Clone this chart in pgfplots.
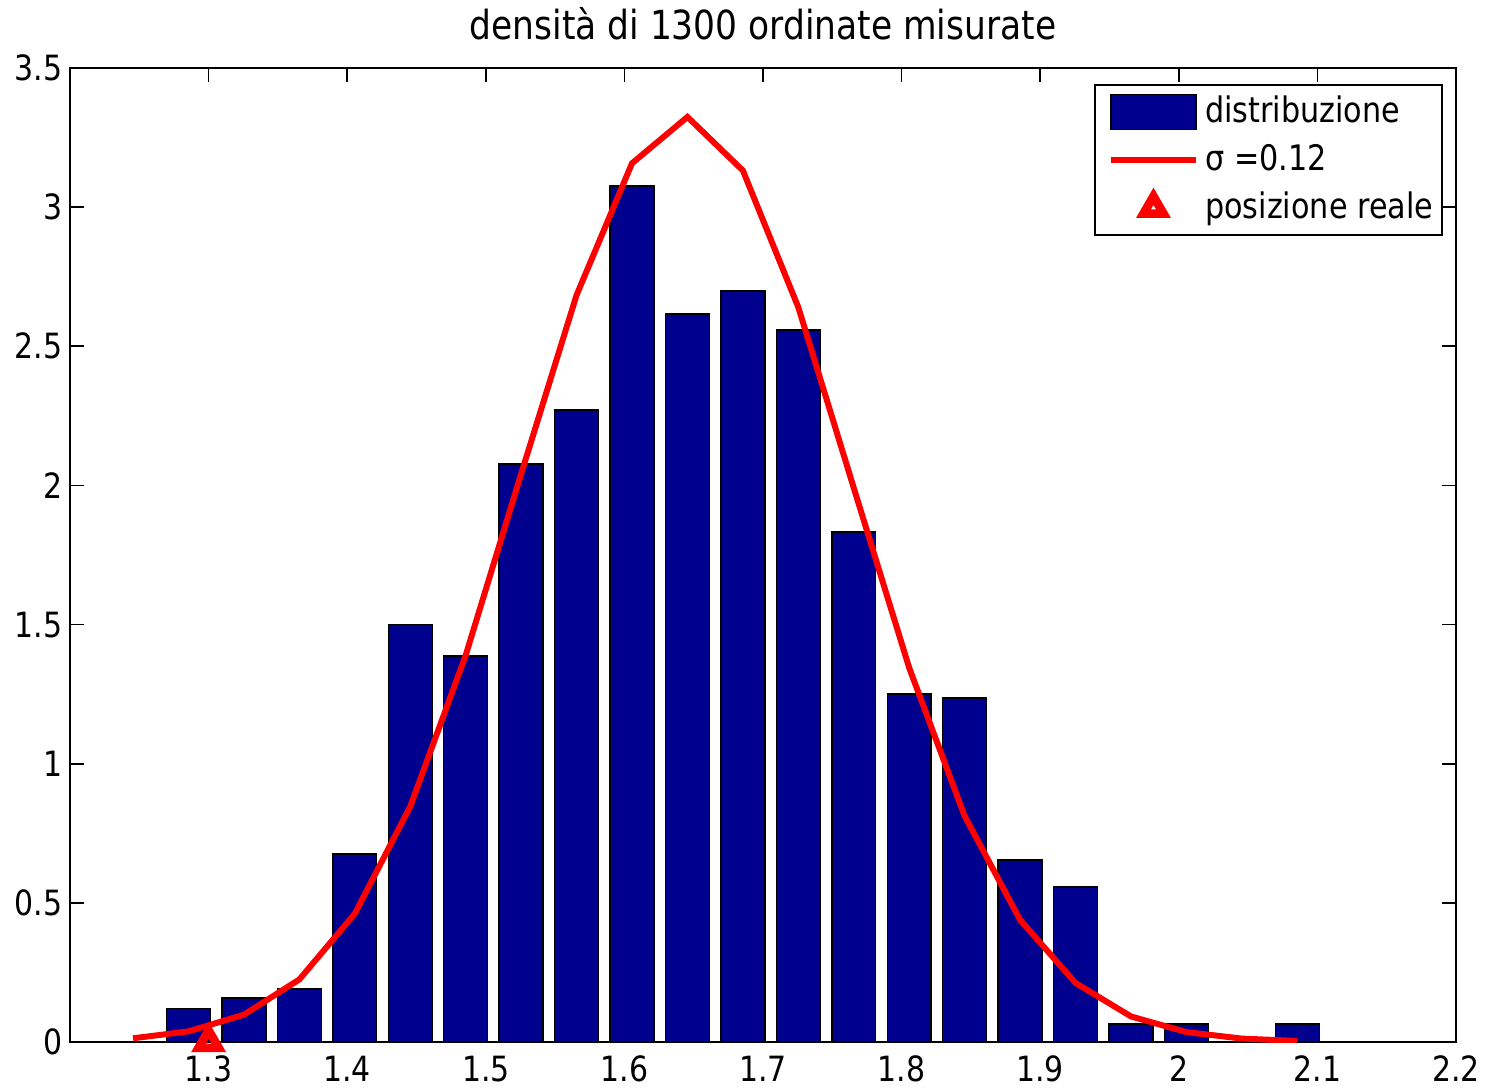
\documentclass[border=0pt]{standalone}
\usepackage{pgfplots}
\pgfplotsset{compat=1.18}
\usepackage{fontspec}
\setmainfont{DejaVu Sans}[FakeStretch=0.86]
\definecolor{navy}{RGB}{0,0,143}
\begin{document}
\begin{tikzpicture}
\path[use as bounding box] (-0.70cm,-0.48cm) rectangle (14.28cm,10.42cm);
\begin{axis}[
  scale only axis,
  width=13.86cm, height=9.74cm,
  at={(0cm,0cm)}, anchor=south west,
  xmin=1.2, xmax=2.2, ymin=0, ymax=3.5,
  axis line style={line width=0.5pt},
  tick style={line width=0.5pt, black},
  tick align=inside,
  major tick length=0.14cm,
  xtick={1.3,1.4,1.5,1.6,1.7,1.8,1.9,2.0,2.1,2.2},
  xticklabels={1.3,1.4,1.5,1.6,1.7,1.8,1.9,2,2.1,2.2},
  ytick={0,0.5,1,1.5,2,2.5,3,3.5},
  yticklabels={0,0.5,1,1.5,2,2.5,3,3.5},
  ticklabel style={font=\fontsize{9.9}{11}\selectfont},
  xticklabel style={inner sep=0pt, anchor=north, yshift=-0.13cm},
  yticklabel style={inner sep=0pt, anchor=east, xshift=-0.07cm},
  title={densità di 1300 ordinate misurate},
  title style={at={(0.5,1)}, anchor=base, yshift=0.07cm, inner sep=0pt, font=\fontsize{11.4}{13}\selectfont},
  legend style={at={(0.9906,0.9836)}, anchor=north east, draw=black, line width=0.5pt,
    font=\fontsize{10}{11}\selectfont, inner xsep=0.04cm, inner ysep=0.03cm,
    nodes={inner xsep=0.05cm, inner ysep=0.05cm, text height=0.3cm, text depth=0.08cm}, cells={anchor=west}},
]
\addplot[ybar, bar width=0.0317, fill=navy, draw=black, line width=0.4pt,
  legend image code/.code={\path (0cm,0cm); \draw[fill=navy,draw=black,line width=0.4pt] (0.08cm,-0.175cm) rectangle (0.93cm,0.175cm);}]
coordinates {
(1.2855,0.120) (1.3255,0.158) (1.3655,0.190) (1.4055,0.676) (1.4455,1.500)
(1.4855,1.387) (1.5255,2.077) (1.5655,2.271) (1.6055,3.076) (1.6455,2.616)
(1.6855,2.699) (1.7255,2.558) (1.7655,1.833) (1.8055,1.250) (1.8455,1.236)
(1.8855,0.654) (1.9255,0.557) (1.9655,0.065) (2.0055,0.065) (2.0855,0.065)
};
\addlegendentry{distribuzione}
\addplot[red, line width=1.7pt, no markers,
  legend image code/.code={\path (0cm,0cm); \draw[red,line width=1.7pt] (0.08cm,0cm) -- (0.93cm,0cm);}]
coordinates {
(1.2455,0.0134) (1.2855,0.0383) (1.3255,0.0982) (1.3655,0.2249) (1.4055,0.4613)
(1.4455,0.8464) (1.4855,1.3897) (1.5255,2.0416) (1.5655,2.6841) (1.6055,3.1577)
(1.6455,3.3242) (1.6855,3.1315) (1.7255,2.6398) (1.7655,1.9912) (1.8055,1.3442)
(1.8455,0.8119) (1.8855,0.4388) (1.9255,0.2122) (1.9655,0.0919) (2.0055,0.0356)
(2.0455,0.0123) (2.0855,0.0038)
};
\addlegendentry{σ =0.12}
\addplot[only marks, mark=triangle, mark size=3.3pt, red, line width=2.45pt, mark options={fill=white, line join=miter, miter limit=10}, clip=false,
  legend image code/.code={\path (0cm,0cm) (0.93cm,0cm); \draw[only marks, mark=triangle, mark size=3.3pt, red, line width=2.45pt, mark options={fill=white, line join=miter, miter limit=10}] plot coordinates {(0.505cm,0cm)};}]
coordinates {(1.3,0.0)};
\addlegendentry{posizione reale}
\end{axis}
\end{tikzpicture}
\end{document}
